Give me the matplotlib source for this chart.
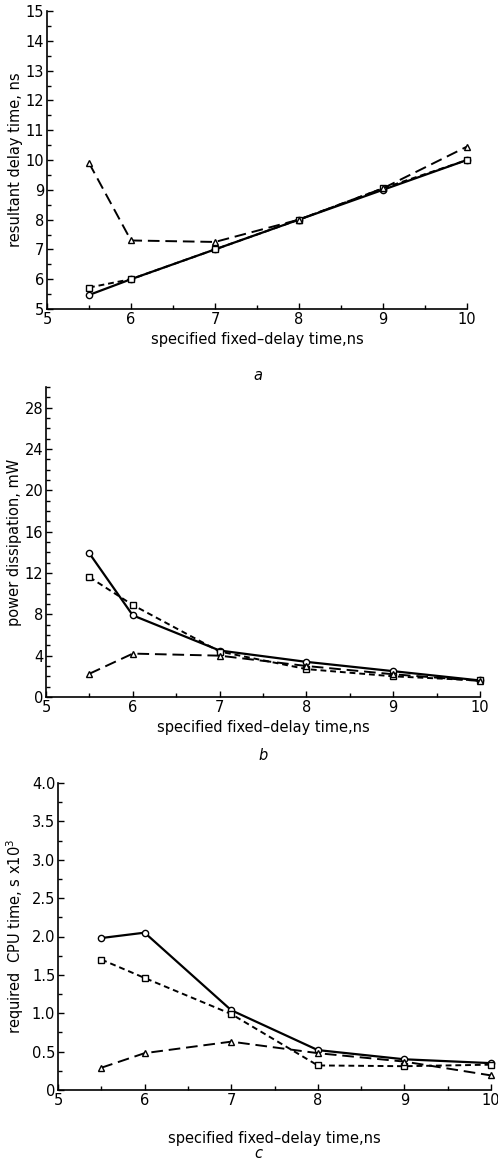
import matplotlib
matplotlib.use("Agg")
import matplotlib.pyplot as plt
from matplotlib.ticker import MultipleLocator

plt.rcParams['font.family'] = ['DejaVu Sans']
plt.rcParams['font.size'] = 10

x = [5.5, 6, 7, 8, 9, 10]

# a: resultant delay time, ns
delay_circle = [5.47, 6.0, 7.0, 8.0, 9.0, 10.0]
delay_square = [5.72, 6.0, 7.0, 8.0, 9.05, 10.0]
delay_triangle = [9.9, 7.3, 7.25, 8.0, 9.05, 10.45]

# b: power dissipation, mW
power_circle = [13.9, 7.9, 4.5, 3.4, 2.5, 1.6]
power_square = [11.6, 8.9, 4.4, 2.7, 2.0, 1.6]
power_triangle = [2.25, 4.2, 4.0, 3.0, 2.2, 1.55]

# c: required CPU time, s x10^3
cpu_circle = [1.98, 2.05, 1.04, 0.52, 0.40, 0.35]
cpu_square = [1.70, 1.46, 0.99, 0.32, 0.31, 0.33]
cpu_triangle = [0.29, 0.48, 0.63, 0.48, 0.37, 0.19]

xlabel = 'specified fixed\u2013delay time,ns'

fig = plt.figure(figsize=(4.98, 11.63), dpi=100)
W, H = 498.0, 1163.0


def make_axes(left, right, top, bottom):
    return fig.add_axes([left / W, 1 - bottom / H, (right - left) / W, (bottom - top) / H])


def style(ax, ymin, ymax, ymajor, yminor):
    ax.set_xlim(5, 10)
    ax.set_ylim(ymin, ymax)
    ax.xaxis.set_major_locator(MultipleLocator(1))
    ax.xaxis.set_minor_locator(MultipleLocator(0.5))
    ax.yaxis.set_major_locator(MultipleLocator(ymajor))
    ax.yaxis.set_minor_locator(MultipleLocator(yminor))
    for s in ['top', 'right']:
        ax.spines[s].set_visible(False)
    for s in ['left', 'bottom']:
        ax.spines[s].set_linewidth(1.2)
    ax.tick_params(which='both', direction='in', width=1.0, labelsize=10.5, pad=2)
    ax.tick_params(which='major', length=4)
    ax.tick_params(which='minor', length=3)


def draw(ax, c, s, t):
    ax.plot(x, c, color='black', lw=1.6, marker='o', ms=4.5, mfc='white', mew=1.0, clip_on=False)
    ax.plot(x, s, color='black', lw=1.4, ls=(0, (3, 2)), marker='s', ms=4.5, mfc='white', mew=1.0, clip_on=False)
    ax.plot(x, t, color='black', lw=1.4, ls=(0, (6, 3)), marker='^', ms=5, mfc='white', mew=1.0, clip_on=False)


# panel a
ax1 = make_axes(47, 467, 11, 309)
draw(ax1, delay_circle, delay_square, delay_triangle)
style(ax1, 5, 15, 1, 0.5)
ax1.set_xlabel(xlabel, fontsize=10.5, labelpad=4)
ax1.set_ylabel('resultant delay time, ns', fontsize=10.5, labelpad=2)
fig.text(258 / W, 1 - 375 / H, 'a', style='italic', ha='center', va='center', fontsize=10.5)

# panel b
ax2 = make_axes(46, 480, 387, 697)
draw(ax2, power_circle, power_square, power_triangle)
style(ax2, 0, 30, 4, 1)
ax2.set_yticks([0, 4, 8, 12, 16, 20, 24, 28])
ax2.set_xlabel(xlabel, fontsize=10.5, labelpad=4)
ax2.set_ylabel('power dissipation, mW', fontsize=10.5, labelpad=2)
fig.text(263 / W, 1 - 755 / H, 'b', style='italic', ha='center', va='center', fontsize=10.5)

# panel c
ax3 = make_axes(58, 491, 783, 1090)
draw(ax3, cpu_circle, cpu_square, cpu_triangle)
style(ax3, 0, 4.0, 0.5, 0.25)
ax3.yaxis.set_major_formatter(lambda v, p: '0' if v == 0 else f'{v:.1f}')
ax3.set_xlabel(xlabel, fontsize=10.5, labelpad=17)
ax3.set_ylabel('required  CPU time, s x10$^3$', fontsize=10.5, labelpad=4)
fig.text(258 / W, 1 - 1153 / H, 'c', style='italic', ha='center', va='center', fontsize=10.5)

fig.savefig('out.png', dpi=100)
